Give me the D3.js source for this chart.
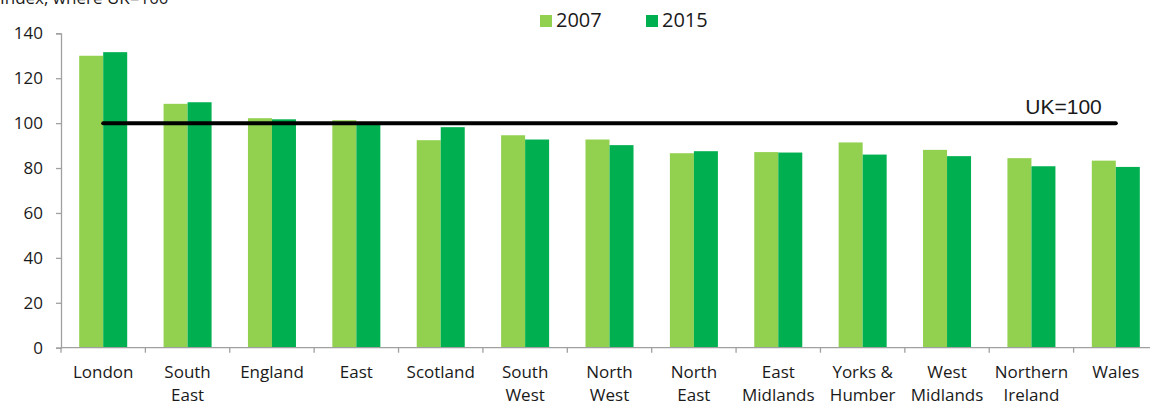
<!DOCTYPE html>
<html>
<head>
<meta charset="utf-8">
<script src="https://cdn.jsdelivr.net/npm/d3@7"></script>
<style>
  html, body { margin: 0; padding: 0; background: #fff; }
  svg { display: block; }
  text { font-family: "Open Sans", "Noto Sans", sans-serif; fill: #1a1a1a; }
</style>
</head>
<body>
<svg id="chart" width="1150" height="403"></svg>
<script>
const categories = [
  ["London"], ["South", "East"], ["England"], ["East"], ["Scotland"],
  ["South", "West"], ["North", "West"], ["North", "East"], ["East", "Midlands"],
  ["Yorks &", "Humber"], ["West", "Midlands"], ["Northern", "Ireland"], ["Wales"]
];
const seriesNames = ["2007", "2015"];
const values2007 = [130, 108.6, 102.2, 101.3, 92.4, 94.6, 92.7, 86.6, 87.1, 91.4, 88.1, 84.4, 83.3];
const values2015 = [131.6, 109.3, 101.7, 100.4, 98.2, 92.7, 90.2, 87.5, 86.9, 86.0, 85.3, 80.8, 80.5];
const yTicks = [0, 20, 40, 60, 80, 100, 120, 140];
const referenceValue = 100;
const referenceLabel = "UK=100";
const titleText = "Index, where UK=100";
const colors = ["#92D050", "#00B050"];

const svg = d3.select("#chart");
const keys = categories.map(c => c.join(" "));
const seriesValues = [values2007, values2015];

const x0 = d3.scaleBand().domain(keys).range([61, 1158]).paddingInner(0.431).paddingOuter(0.2155);
const x1 = d3.scaleBand().domain(seriesNames).range([0, x0.bandwidth()]).padding(0);
const xb = d3.scaleBand().domain(keys).range([61, 1158]).padding(0);
const y = d3.scaleLinear().domain([0, 140]).range([347.7, 33.3]);

// title (partially cut off at top)
svg.append("text").attr("x", 0).attr("y", 4).attr("font-size", 17).text(titleText);

// bars
const groups = svg.append("g").selectAll("g").data(keys).join("g")
  .attr("transform", d => `translate(${x0(d)},0)`);
groups.selectAll("rect")
  .data((d, i) => seriesNames.map((s, j) => ({ s, v: seriesValues[j][i], j })))
  .join("rect")
  .attr("x", d => x1(d.s))
  .attr("width", x1.bandwidth())
  .attr("y", d => y(d.v))
  .attr("height", d => y(0) - y(d.v))
  .attr("fill", d => colors[d.j]);

// y axis
const yAxis = svg.append("g").attr("transform", "translate(61,0)")
  .call(d3.axisLeft(y).tickValues(yTicks).tickSize(5).tickPadding(13).tickSizeOuter(5));
yAxis.select(".domain").attr("stroke", "#a0a0a0").attr("stroke-width", 1.3);
yAxis.selectAll(".tick line").attr("stroke", "#a0a0a0").attr("stroke-width", 1.3);
yAxis.selectAll(".tick text").attr("font-size", 17).attr("fill", "#1a1a1a")
  .style("font-family", '"Open Sans", "Noto Sans", sans-serif');

// x axis
const xg = svg.append("g");
xg.append("line").attr("x1", 61).attr("x2", 1158).attr("y1", y(0)).attr("y2", y(0))
  .attr("stroke", "#a0a0a0").attr("stroke-width", 1.3);
const boundaries = keys.map(k => xb(k)).concat([xb(keys[keys.length - 1]) + xb.bandwidth()]);
xg.selectAll("line.tk").data(boundaries).join("line").attr("class", "tk")
  .attr("x1", d => d).attr("x2", d => d).attr("y1", y(0)).attr("y2", y(0) + 5)
  .attr("stroke", "#a0a0a0").attr("stroke-width", 1.3);
const labels = xg.selectAll("text.cat").data(categories).join("text").attr("class", "cat")
  .attr("x", (d, i) => xb(keys[i]) + xb.bandwidth() / 2)
  .attr("y", 378)
  .attr("text-anchor", "middle")
  .attr("font-size", 17);
labels.selectAll("tspan").data(d => d).join("tspan")
  .attr("x", function () { return d3.select(this.parentNode).attr("x"); })
  .attr("dy", (d, i) => i === 0 ? 0 : 23)
  .text(d => d);

// reference line
const lx1 = x0(keys[0]) + x0.bandwidth() / 2;
const lx2 = x0(keys[keys.length - 1]) + x0.bandwidth() / 2;
svg.append("line").attr("x1", lx1).attr("x2", lx2).attr("y1", y(referenceValue)).attr("y2", y(referenceValue))
  .attr("stroke", "#000").attr("stroke-width", 4).attr("stroke-linecap", "round");
svg.append("text").attr("x", lx2 - 14).attr("y", y(referenceValue) - 9)
  .attr("text-anchor", "end").attr("font-size", 21)
  .style("font-family", '"Liberation Sans", Arial, sans-serif')
  .text(referenceLabel);

// legend
const legendX = [540, 646];
const lg = svg.append("g").selectAll("g").data(seriesNames).join("g")
  .attr("transform", (d, i) => `translate(${legendX[i]},0)`);
lg.append("rect").attr("x", 0).attr("y", 15).attr("width", 12).attr("height", 12)
  .attr("fill", (d, i) => colors[i]);
lg.append("text").attr("x", 16).attr("y", 27).attr("font-size", 20).text(d => d);
</script>
</body>
</html>
